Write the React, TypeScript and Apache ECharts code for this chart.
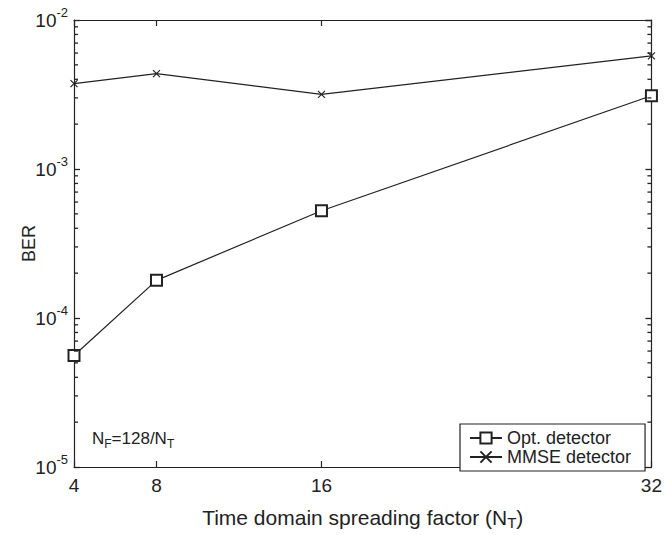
import React, { useEffect, useRef } from 'react';
import * as echarts from 'echarts';

const spreadingFactors = [4, 8, 16, 32];
const optBER = [5.6e-5, 1.79e-4, 5.25e-4, 3.1e-3];
const mmseBER = [3.74e-3, 4.37e-3, 3.17e-3, 5.74e-3];
const xTickValues = [4, 8, 16, 32];
const yMinorTickValues = [
  2e-5, 3e-5, 4e-5, 5e-5, 6e-5, 7e-5, 8e-5, 9e-5,
  2e-4, 3e-4, 4e-4, 5e-4, 6e-4, 7e-4, 8e-4, 9e-4,
  2e-3, 3e-3, 4e-3, 5e-3, 6e-3, 7e-3, 8e-3, 9e-3,
];
const seriesNames = ['Opt. detector', 'MMSE detector'];

const INK = '#222';
const FONT = '"Liberation Sans", Arial, Helvetica, sans-serif';

export default function App() {
  const ref = useRef<HTMLDivElement>(null);

  useEffect(() => {
    if (!ref.current) return;
    const chart = echarts.init(ref.current, undefined, { renderer: 'svg' });
    const xMin = spreadingFactors[0];
    const xMax = spreadingFactors[spreadingFactors.length - 1];

    const yAxisBase = {
      type: 'log' as const,
      logBase: 10,
      min: 1e-5,
      max: 1e-2,
      axisLine: { show: true, lineStyle: { color: INK, width: 1.2 } },
      axisTick: { show: true, inside: true, length: 6, lineStyle: { color: INK, width: 1.3 } },
      splitLine: { show: false },
      minorTick: { show: false },
    };

    const minorTickSeries = (xVal: number, offset: number) => ({
      type: 'scatter',
      silent: true,
      clip: false,
      data: yMinorTickValues.map((v) => [xVal, v]),
      symbol: 'rect',
      symbolSize: [4, 1.3],
      symbolKeepAspect: false,
      symbolOffset: [offset, 0],
      itemStyle: { color: INK, opacity: 1 },
      z: 5,
    });

    chart.setOption({
      animation: false,
      backgroundColor: '#fff',
      textStyle: { fontFamily: FONT, color: INK },
      grid: { left: 74, right: 11, top: 20, bottom: 59, containLabel: false },
      xAxis: [
        {
          type: 'value',
          min: xMin,
          max: xMax,
          position: 'bottom',
          name: '{a|Time domain spreading factor (N}{s|T}{a|)}',
          nameLocation: 'middle',
          nameGap: 37,
          nameMoveOverlap: false,
          nameTextStyle: {
            rich: {
              a: { fontSize: 21, fontFamily: FONT, color: INK },
              s: { fontSize: 15, fontFamily: FONT, color: INK, padding: [11, 0, 0, 0] },
            },
          },
          axisLine: { show: true, lineStyle: { color: INK, width: 1.2 } },
          axisTick: { show: true, inside: true, length: 6, customValues: xTickValues, lineStyle: { color: INK, width: 1.2 } },
          axisLabel: {
            show: true,
            customValues: xTickValues,
            fontSize: 19,
            fontFamily: FONT,
            color: INK,
            margin: 9,
          },
          splitLine: { show: false },
        },
        {
          type: 'value',
          min: xMin,
          max: xMax,
          position: 'top',
          axisLine: { show: true, lineStyle: { color: INK, width: 1.2 } },
          axisTick: { show: true, inside: true, length: 6, customValues: xTickValues, lineStyle: { color: INK, width: 1.2 } },
          axisLabel: { show: false },
          splitLine: { show: false },
        },
      ],
      yAxis: [
        {
          ...yAxisBase,
          position: 'left',
          name: 'BER',
          nameLocation: 'middle',
          nameGap: 36,
          nameMoveOverlap: false,
          nameTextStyle: { fontSize: 18, fontFamily: FONT, color: INK },
          axisLabel: {
            show: true,
            margin: 6,
            formatter: (v: number) => `{b|10}{s|${Math.round(Math.log10(v))}}`,
            rich: {
              b: { fontSize: 19, fontFamily: FONT, color: INK },
              s: { fontSize: 13, fontFamily: FONT, color: INK, padding: [0, 0, 16, 0] },
            },
          },
        },
        {
          ...yAxisBase,
          position: 'right',
          axisLabel: { show: false },
        },
      ],
      legend: {
        data: seriesNames,
        orient: 'vertical',
        left: 460,
        top: 424,
        padding: [5, 14, 5, 9],
        itemGap: 1,
        itemWidth: 32,
        itemHeight: 14,
        borderColor: INK,
        borderWidth: 1.2,
        borderRadius: 0,
        backgroundColor: '#fff',
        textStyle: { fontSize: 18, fontFamily: FONT, color: INK, lineHeight: 18 },
      },
      graphic: [
        {
          type: 'text',
          left: 92,
          top: 430,
          style: {
            text: '{n|N}{s|F}{n|=128/N}{s|T}',
            rich: {
              n: { fontSize: 17, fontFamily: FONT, fill: INK },
              s: { fontSize: 12, fontFamily: FONT, fill: INK, padding: [10, 0, 0, 0] },
            },
          },
        },
      ],
      series: [
        {
          name: seriesNames[0],
          type: 'line',
          data: spreadingFactors.map((x, i) => [x, optBER[i]]),
          symbol: 'emptyRect',
          symbolSize: 11,
          color: INK,
          lineStyle: { color: INK, width: 1.2 },
          itemStyle: { color: INK, borderColor: INK, borderWidth: 1.2 },
          z: 3,
        },
        {
          name: seriesNames[1],
          type: 'line',
          data: spreadingFactors.map((x, i) => [x, mmseBER[i]]),
          symbol: 'path://M0 0L10 10M10 0L0 10',
          symbolSize: 7,
          color: INK,
          lineStyle: { color: INK, width: 1.2 },
          itemStyle: { color: INK, borderColor: INK, borderWidth: 1.2 },
          z: 3,
        },
        { name: 'minorLeft', ...minorTickSeries(xMin, 2) },
        { name: 'minorRight', ...minorTickSeries(xMax, -2) },
      ],
    });

    return () => chart.dispose();
  }, []);

  return (
    <div
      ref={ref}
      style={{ position: 'fixed', left: 0, top: 0, width: 665, height: 535, background: '#fff' }}
    />
  );
}
